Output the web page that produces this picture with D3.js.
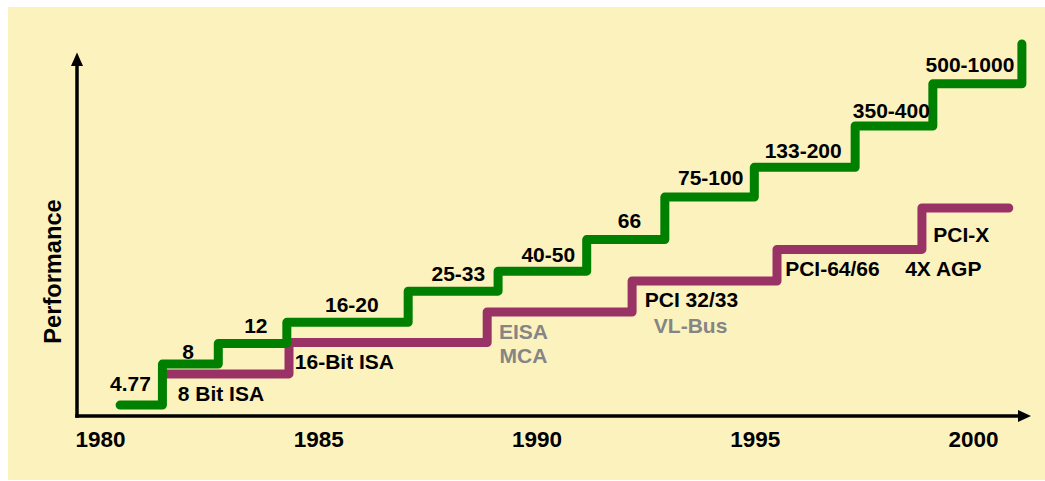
<!DOCTYPE html>
<html>
<head>
<meta charset="utf-8">
<script src="https://cdn.jsdelivr.net/npm/d3@7"></script>
<style>
  html, body { margin: 0; padding: 0; background: #ffffff; }
  svg { display: block; }
  text { font-family: "Liberation Sans", Arial, sans-serif; font-weight: bold; }
</style>
</head>
<body>
<svg id="chart" width="1045" height="481"></svg>
<script>
// ---- data ----
const yearTicks = [1980, 1985, 1990, 1995, 2000];

// CPU / bus clock speed steps (green)
const speedLabels = ["4.77", "8", "12", "16-20", "25-33", "40-50", "66", "75-100", "133-200", "350-400", "500-1000"];
const speedStart  = [1980.46, 1981.43, 1982.71, 1984.28, 1987.06, 1989.12, 1991.15, 1992.94, 1994.99, 1997.30, 1999.08];
const speedEnd    = 2001.12;
const speedLevel  = [3.0, 14.3, 20.0, 25.8, 34.4, 39.9, 48.6, 60.3, 68.5, 79.9, 91.5];
const speedTop    = 102.5;
const speedLabelYear  = [1980.70, 1982.02, 1983.57, 1985.77, 1988.21, 1990.27, 1992.13, 1993.99, 1996.11, 1998.13, 1999.93];
const speedLabelLevel = [6.9, 15.7, 22.9, 28.7, 37.2, 42.5, 51.8, 63.6, 71.1, 82.2, 94.9];

// I/O bus steps (purple)
const busStart = [1981.45, 1984.33, 1988.87, 1992.19, 1995.51, 1998.83];
const busEnd   = 2000.82;
const busLevel = [11.6, 20.25, 28.65, 37.2, 45.9, 57.3];
const busLabels     = ["8 Bit ISA", "16-Bit ISA", "EISA", "MCA", "PCI 32/33", "VL-Bus", "PCI-64/66", "4X AGP", "PCI-X"];
const busLabelYear  = [1982.77, 1985.60, 1989.70, 1989.70, 1993.55, 1993.53, 1996.78, 1999.32, 1999.73];
const busLabelLevel = [4.1, 12.9, 21.2, 14.5, 29.9, 23.0, 38.6, 38.6, 48.0];
const busLabelMuted = [false, false, true, true, false, true, false, false, false];

// ---- layout ----
const W = 1045, H = 481;
const svg = d3.select("#chart");
const x = d3.scaleLinear().domain([1980, 2000]).range([100, 973]);
const y = d3.scaleLinear().domain([0, 100]).range([416, 53]);

const GREEN = "#008000", PURPLE = "#993366", GRAY = "#858585", BG = "#fcf2be";

svg.append("rect").attr("x", 8).attr("y", 7).attr("width", W - 8).attr("height", H - 8).attr("fill", BG);

// arrow axes
const axisX0 = 77, axisY0 = y(0);
svg.append("line").attr("x1", axisX0).attr("y1", axisY0 + 1.75).attr("x2", axisX0).attr("y2", 64)
  .attr("stroke", "#000").attr("stroke-width", 3.5);
svg.append("path").attr("d", `M${axisX0 - 6},${66} L${axisX0},${52.5} L${axisX0 + 6},${66} Z`).attr("fill", "#000");
svg.append("line").attr("x1", axisX0 - 1.75).attr("y1", axisY0).attr("x2", 1020).attr("y2", axisY0)
  .attr("stroke", "#000").attr("stroke-width", 3.5);
svg.append("path").attr("d", `M1018,${axisY0 - 6} L1031,${axisY0} L1018,${axisY0 + 6} Z`).attr("fill", "#000");

// x axis labels via d3 axis
const xAxis = d3.axisBottom(x).tickValues(yearTicks).tickFormat(d3.format("d")).tickSize(0).tickPadding(0);
const gx = svg.append("g").attr("transform", `translate(0,${axisY0})`).call(xAxis);
gx.select(".domain").remove();
gx.selectAll("text")
  .attr("fill", "#000")
  .attr("dy", null)
  .attr("y", 31)
  .style("font-size", "22.5px")
  .style("font-family", "'Liberation Sans', Arial, sans-serif")
  .style("font-weight", "bold");

// y label
svg.append("text")
  .attr("transform", `translate(60.5,271.5) rotate(-90)`)
  .attr("text-anchor", "middle")
  .style("font-size", "23.6px")
  .attr("fill", "#000")
  .text("Performance");

// step builders
function stepPoints(starts, end, levels) {
  const pts = [];
  starts.forEach((s, i) => {
    const e = i < starts.length - 1 ? starts[i + 1] : end;
    pts.push([s, levels[i]]);
    pts.push([e, levels[i]]);
  });
  return pts;
}
const line = d3.line().x(d => x(d[0])).y(d => y(d[1]));

const busPts = stepPoints(busStart, busEnd, busLevel);
svg.append("path").attr("d", line(busPts)).attr("fill", "none").attr("stroke", PURPLE)
  .attr("stroke-width", 9).attr("stroke-linejoin", "round").attr("stroke-linecap", "round");

const speedPts = stepPoints(speedStart, speedEnd, speedLevel);
speedPts.push([speedEnd, speedTop]);
svg.append("path").attr("d", line(speedPts)).attr("fill", "none").attr("stroke", GREEN)
  .attr("stroke-width", 9).attr("stroke-linejoin", "round").attr("stroke-linecap", "round");

// labels
svg.append("g").selectAll("text").data(speedLabels).join("text")
  .attr("x", (d, i) => x(speedLabelYear[i]))
  .attr("y", (d, i) => y(speedLabelLevel[i]))
  .attr("text-anchor", "middle")
  .style("font-size", "21px")
  .attr("fill", "#000")
  .text(d => d);

svg.append("g").selectAll("text").data(busLabels).join("text")
  .attr("x", (d, i) => x(busLabelYear[i]))
  .attr("y", (d, i) => y(busLabelLevel[i]))
  .attr("text-anchor", "middle")
  .style("font-size", "21px")
  .attr("fill", (d, i) => busLabelMuted[i] ? GRAY : "#000")
  .text(d => d);
</script>
</body>
</html>
